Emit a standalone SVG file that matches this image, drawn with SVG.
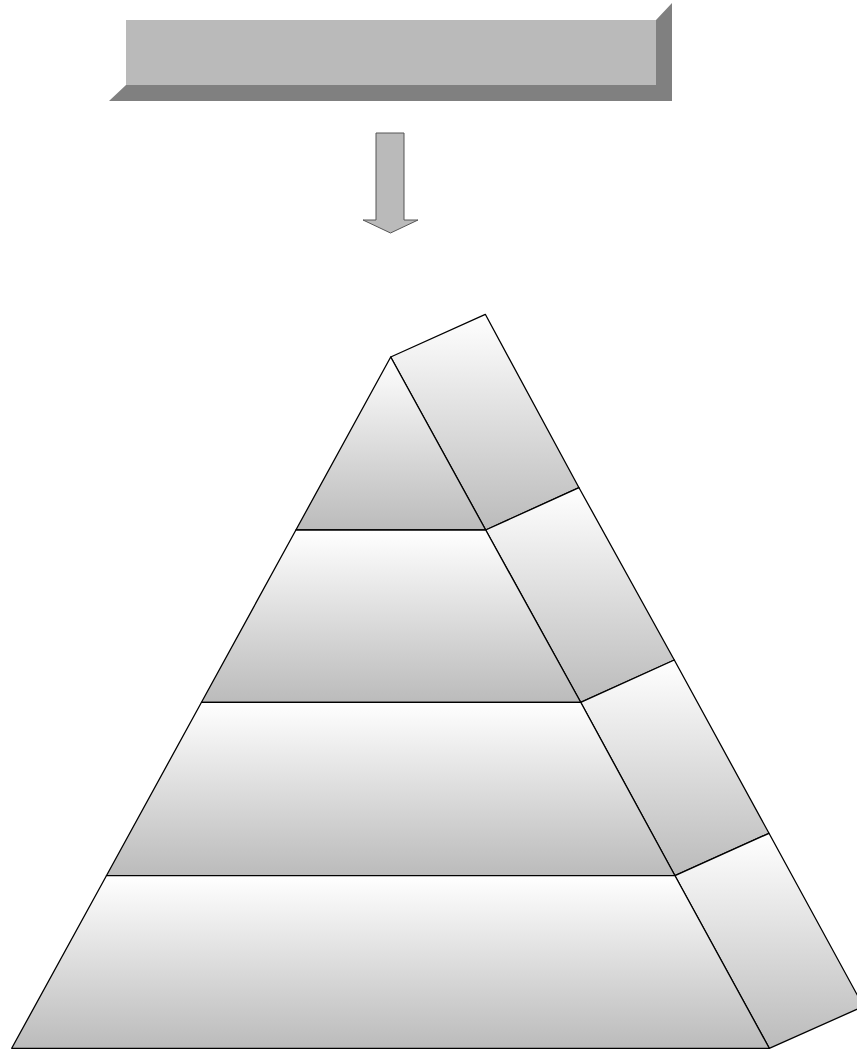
<svg xmlns="http://www.w3.org/2000/svg" width="857" height="1050" viewBox="0 0 857 1050">
<defs>
<linearGradient id="g" x1="0" y1="0" x2="0" y2="1">
<stop offset="0" stop-color="#FFFFFF"/>
<stop offset="1" stop-color="#BBBBBB"/>
</linearGradient>
</defs>
<style>
.face{fill:url(#g);stroke:#000;stroke-width:1.3;stroke-linejoin:round}
</style>
<rect width="857" height="1050" fill="#FFFFFF"/>
<g id="banner">
<polygon points="656,20 672,3 672,101 109,101 126,85 656,85" fill="#808080"/>
<rect x="126" y="20" width="530" height="65" fill="#BABABA"/>
</g>
<g id="connectors">
<polygon points="376,133 404,133 404,220 418,220 390.5,233 363,220 376,220" fill="#BABABA" stroke="#555555" stroke-width="1"/>
</g>
<g id="side1"><polygon class="face" points="390.7,357 485.3,314.3 579,487.7 485.7,530"/></g>
<g id="side2"><polygon class="face" points="485.7,530 579,487.7 674.3,660 580.7,702.3"/></g>
<g id="side3"><polygon class="face" points="580.7,702.3 674.3,660 769,833.3 675,875.7"/></g>
<g id="side4"><polygon class="face" points="675,875.7 769,833.3 863.5,1006.4 769.3,1048.3"/></g>
<g id="level1"><polygon class="face" points="390.7,357 485.7,530 295.9,530"/></g>
<g id="level2"><polygon class="face" points="295.9,530 485.7,530 580.7,702.3 201.5,702.3"/></g>
<g id="level3"><polygon class="face" points="201.5,702.3 580.7,702.3 675,875.7 106.4,875.7"/></g>
<g id="level4"><polygon class="face" points="106.4,875.7 675,875.7 769.3,1048.3 11.7,1048.3"/></g>
</svg>
